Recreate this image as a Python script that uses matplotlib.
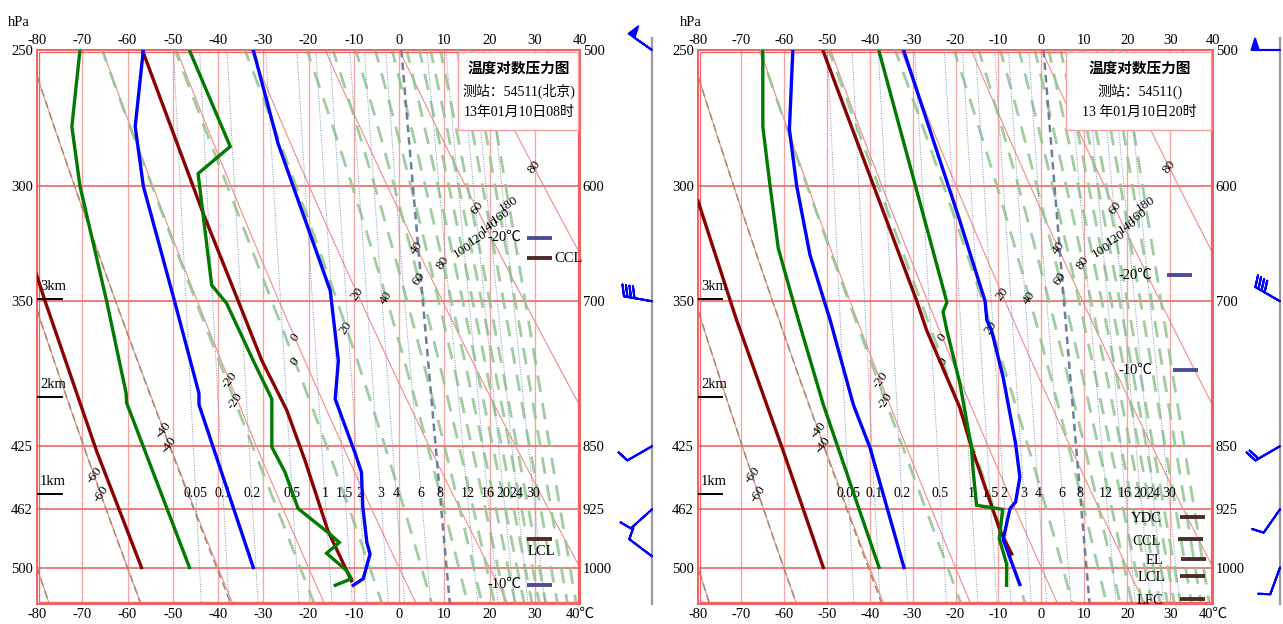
import numpy as np
import matplotlib.pyplot as plt
from matplotlib.patches import Rectangle
from matplotlib.ticker import NullLocator

plt.rcParams['font.family'] = ['Liberation Serif', 'Noto Sans CJK SC']
plt.rcParams['axes.unicode_minus'] = False

# ---------------- sounding 13-01-10 08时 ----------------
# lower part, 1050-500 hPa (right axis)
P_T08 = [1024, 1015, 982, 967, 922, 880, 858, 798, 758, 690, 600, 567, 500]
T08 = [-10.1, -7.9, -6.4, -7.1, -8.0, -8.3, -9.7, -14.1, -13.4, -15.2, -23.4, -26.7, -32.2]
P_TD08 = [1024, 1015, 1004, 981, 967, 956, 924, 880, 851, 798, 758, 702, 685, 590, 569, 501]
TD08 = [-14.1, -10.5, -11.6, -16.0, -13.2, -15.3, -22.3, -25.2, -28.1, -28.1, -32.2, -38.1,
        -41.4, -44.4, -37.3, -46.2]
P_TP08 = [1018, 952, 866, 810, 758, 699, 622, 501]
TP08 = [-10.5, -15.7, -20.8, -24.8, -30.3, -35.6, -43.3, -56.6]
# upper part, 500-250 hPa (left axis)
PU_T08 = [250, 277, 300, 350, 396, 402, 500]
TU08 = [-56.5, -58.3, -56.5, -49.6, -44.2, -44.2, -32.2]
PU_TD08 = [250, 277, 300, 350, 396, 401, 500]
TDU08 = [-70.5, -72.3, -70.5, -64.6, -60.3, -60.2, -46.3]
PU_TP08 = [336, 350, 428, 500]
TPU08 = [-80.4, -78.2, -66.8, -56.9]

# ---------------- sounding 13-01-10 20时 ----------------
P_T20 = [1023, 963, 924, 916, 886, 847, 775, 728, 718, 700, 625, 501]
T20 = [-5.0, -8.9, -7.3, -6.0, -5.0, -6.0, -8.9, -11.6, -12.7, -13.1, -19.3, -32.0]
P_TD20 = [1024, 995, 962, 925, 920, 878, 851, 781, 728, 710, 701, 501]
TD20 = [-8.1, -8.1, -9.8, -9.0, -15.1, -15.9, -16.3, -19.0, -22.0, -22.9, -22.0, -37.8]
P_TP20 = [982, 952, 874, 851, 807, 728, 699, 501]
TP20 = [-6.9, -9.6, -14.7, -16.3, -19.0, -26.7, -29.1, -50.8]
PU_T20 = [250, 278, 300, 329, 359, 402, 426, 500]
TU20 = [-57.9, -58.7, -57.0, -53.9, -49.2, -43.8, -39.9, -32.0]
PU_TD20 = [250, 277, 300, 326, 359, 402, 500]
TDU20 = [-64.9, -64.9, -63.2, -61.3, -56.6, -50.8, -37.8]
PU_TP20 = [306, 359, 428, 500]
TPU20 = [-80.0, -71.0, -60.1, -50.8]

# wind: level (hPa), direction (deg), speed (m/s)
WP08 = [500, 700, 850, 925, 985]
WD08 = [305, 280, 240, 228, 307]
WS08 = [20, 16, 4, 4, 4]
WP20 = [500, 700, 850, 925, 1000]
WD20 = [270, 300, 240, 215, 200]
WS20 = [20, 16, 8, 4, 4]

# characteristic levels
MK08_NAMES = ['-20℃', 'CCL', 'LCL', '-10℃']
MK08_P = [643, 661, 962, 1023]
MK20_NAMES = ['-20℃', '-10℃', 'YDC', 'CCL', 'EL', 'LCL', 'LFC']
MK20_P = [676, 768, 934, 963, 988, 1012, 1043]

# diagram lines
THETA = [-80, -60, -40, -20, 0, 20, 40, 60, 80, 100]
THETA_SE = [-80, -60, -40, -20, 0, 20, 40, 50, 60, 70, 80, 90, 100, 110, 120, 140, 160, 180]
MIXR = [0.05, 0.1, 0.2, 0.5, 1, 1.5, 2, 3, 4, 6, 8, 12, 16, 20, 24, 30]
MIXR_LAB = ['0.05', '0.1', '0.2', '0.5', '1', '1.5', '2', '3', '4', '6', '8', '12', '16', '20',
            '24', '30']
DRY_LAB = [-60, -40, -20, 0, 20, 40, 60, 80]
MOIST_LAB = [-60, -40, -20, 0, 20, 40, 60, 80, 100, 120, 140, 160, 180]
XT = list(range(-80, 41, 10))
P_RIGHT = [500, 600, 700, 850, 925, 1000]
P_LEFT = ['250', '300', '350', '425', '462', '500']
KM = ['3km', '2km', '1km']
KM_P = [698, 796, 906]

RED = '#f08a8a'
GRN = '#8fc48f'


def es_w(t):
    return 6.112 * np.exp(17.67 * t / (t + 243.5))


def dew_of_r(r, p):
    e = r / 1000.0 * p / (0.622 + r / 1000.0)
    a = np.log(e / 6.112)
    return np.where(a < 0, 272.62 * a / (22.46 - a), 243.5 * a / (17.67 - a))


def dtdp(T, pp):
    tc = T - 273.15
    e = es_w(tc)
    rs = 0.622 * e / (pp - e)
    L = 2.501e6
    return (287.04 * T + L * rs) / (pp * (1005.7 + L * L * rs * 0.622 / (287.04 * T * T)))


def integrate(T0, ps):
    T = np.array(T0, float) + 273.15
    out = [T.copy()]
    for a, b in zip(ps[:-1], ps[1:]):
        k1 = dtdp(T, a)
        k2 = dtdp(T + (b - a) * k1, b)
        T = T + (b - a) * (k1 + k2) / 2
        out.append(T.copy())
    return np.array(out) - 273.15


tt = np.linspace(-100, 48, 3000)
ee = es_w(tt)
rr = 622 * ee / (1000 - ee)
the = (tt + 273.15) * np.exp((3.376 / (tt + 273.15) - 0.00254) * rr * (1 + 0.00081 * rr)) - 273.15
T1000 = np.interp(THETA_SE, the, tt)
p_up = np.linspace(1000, 480, 200)
p_dn = np.linspace(1000, 1060, 20)
MOIST_UP = integrate(T1000, p_up)
MOIST_DN = integrate(T1000, p_dn)
# increasing pressure order
P_MOIST = np.concatenate([p_up[::-1], p_dn[1:]])
MOIST = np.concatenate([MOIST_UP[::-1], MOIST_DN[1:]])

W, H = 1283, 624
fig = plt.figure(figsize=(W / 100, H / 100), dpi=100)


def px_axes(x0, x1, y0, y1):
    return fig.add_axes([x0 / W, 1 - y1 / H, (x1 - x0) / W, (y1 - y0) / H])


def panel(ax, bx, lower, upper, wind, marks, title, right_marks, hpa_x):
    ax.set_yscale('log')
    ax.set_xlim(-80, 40)
    ax.set_ylim(1050, 500)
    ax.yaxis.set_minor_locator(NullLocator())
    ax.set_yticks(P_RIGHT)
    ax.set_yticklabels(P_LEFT)
    ax.set_xticks(XT)
    ax.set_xticklabels([str(v) for v in XT[:-1]] + ['40℃'])
    ax.tick_params(length=0, labelsize=10.5, pad=3)
    top = ax.secondary_xaxis('top')
    top.set_xticks(XT)
    top.tick_params(length=0, labelsize=10.5, pad=2)
    top.spines['top'].set_visible(False)
    rgt = ax.secondary_yaxis('right')
    rgt.set_yticks(P_RIGHT)
    rgt.set_yticklabels([str(v) for v in P_RIGHT])
    rgt.yaxis.set_minor_locator(NullLocator())
    rgt.tick_params(length=0, labelsize=10.5, pad=2)
    rgt.spines['right'].set_visible(False)
    ax.text(hpa_x, 1.05, 'hPa', transform=ax.transAxes, fontsize=10.5, ha='left', va='center')
    for s in ax.spines.values():
        s.set_color('#f06060')
        s.set_linewidth(1.4)
    ax.add_patch(Rectangle((0.004, 0.004), 0.992, 0.992, transform=ax.transAxes, fill=False,
                           ec='#f06060', lw=0.9, zorder=6))

    for x in XT[1:-1]:
        ax.axvline(x, color='#f5a5a5', lw=1.0, zorder=1)
    for p in P_RIGHT[1:]:
        ax.axhline(p, color='#f07070', lw=1.3, zorder=1)

    pp = np.geomspace(500, 1050, 120)
    # dry adiabats
    for th in THETA:
        ax.plot((th + 273.15) * (pp / 1000) ** 0.286 - 273.15, pp, color=RED, lw=0.8, zorder=2)
    # moist adiabats
    for i, th in enumerate(THETA_SE):
        if th <= -40:
            ax.plot(MOIST[:, i], P_MOIST, color='#a08a6a', lw=1.1, dashes=(5, 3), zorder=3)
        else:
            ax.plot(MOIST[:, i], P_MOIST, color=GRN, lw=2.0, dashes=(6, 4), alpha=0.85, zorder=3)
    # mixing ratio lines
    for r, lab in zip(MIXR, MIXR_LAB):
        td = dew_of_r(r, pp)
        if r == 8:
            ax.plot(td, pp, color='#6d7f9c', lw=1.8, dashes=(3, 2), zorder=3)
        else:
            ax.plot(td, pp, color='#7d8db0', lw=0.7, ls=(0, (1, 1.5)), zorder=3)
        ax.text(dew_of_r(r, 905.0), 905, lab, fontsize=10, ha='center', va='center', zorder=4)

    # adiabat labels
    lab_p_dry = [884, 832, 778, 735, 693, 652, 618, 585]
    for th, p0 in zip(DRY_LAB, lab_p_dry):
        x0 = (th + 273.15) * (p0 / 1000) ** 0.286 - 273.15
        ax.text(x0, p0, str(th), rotation=52, fontsize=9.5, ha='center', va='center', zorder=4)
    lab_p_moist = [906, 849, 800, 759, 725, 697, 679, 665, 654, 643, 633, 625, 615]
    for th, p0 in zip(MOIST_LAB, lab_p_moist):
        i = THETA_SE.index(th)
        x0 = np.interp(p0, P_MOIST, MOIST[:, i])
        rot = 55 if th <= 80 else 32
        ax.text(x0, p0, str(th), rotation=rot, fontsize=9.5, ha='center', va='center', zorder=4)

    # soundings
    (pt, t), (ptd, td), (ptp, tp) = lower
    (upt, ut), (uptd, utd), (uptp, utp) = upper
    kw = dict(lw=2.4, zorder=8, solid_joinstyle='miter')
    ax.plot(tp, ptp, color='#8b0000', **kw)
    ax.plot(td, ptd, color='#007a00', **kw)
    ax.plot(t, pt, color='#0000ff', **kw)
    ax.plot(utp, np.array(uptp) * 2, color='#8b0000', **kw)
    ax.plot(utd, np.array(uptd) * 2, color='#007a00', **kw)
    ax.plot(ut, np.array(upt) * 2, color='#0000ff', **kw)

    # height marks
    for lab, p in zip(KM, KM_P):
        ax.plot([-80, -74.5], [p, p], color='k', lw=1.4, zorder=9)
        ax.text(-79.3, p * 0.992, lab, fontsize=10.5, ha='left', va='bottom', zorder=9)

    # characteristic levels
    for name, p, (x0, x1, tx, ty, ha, va) in zip(marks[0], marks[1], right_marks):
        col = '#4a4e96' if '℃' in name else '#4d2b2b'
        ax.plot([x0, x1], [p, p], color=col, lw=2.8, zorder=9, solid_capstyle='butt')
        ax.text(tx, p * ty, name, fontsize=10.5, ha=ha, va=va, zorder=9)

    # title box
    bx0 = title[0]
    ax.add_patch(Rectangle((bx0, 0.855), 1 - bx0 - 0.003, 0.141, transform=ax.transAxes,
                           fc='white', ec='#f4a0a0', lw=1.0, zorder=10))
    xc = (bx0 + 1) / 2
    ax.text(xc, 0.966, title[1], transform=ax.transAxes, fontsize=10.5, ha='center',
            va='center', zorder=11, fontweight='bold')
    ax.text(xc, 0.926, title[2], transform=ax.transAxes, fontsize=10, ha='center', va='center',
            zorder=11)
    ax.text(xc, 0.888, title[3], transform=ax.transAxes, fontsize=10, ha='center', va='center',
            zorder=11)

    # wind barbs
    bx.set_yscale('log')
    bx.set_ylim(1050, 500)
    bx.set_xlim(0, 1)
    bx.axis('off')
    bx.plot([1, 1], [492, 1050], color='#9a9a9a', lw=1.6, clip_on=False)
    wp, wd, ws = wind
    wd = np.radians(wd)
    u = -np.array(ws) * np.sin(wd)
    v = -np.array(ws) * np.cos(wd)
    bx.barbs(np.ones(len(wp)), wp, u, v, length=6.4, color='#0000ff', lw=1.5, clip_on=False,
             barb_increments=dict(half=2, full=4, flag=20), zorder=5)


ax1 = px_axes(37, 580, 50, 604)
bx1 = px_axes(580, 652, 50, 604)
ax2 = px_axes(698, 1213, 50, 604)
bx2 = px_axes(1213, 1280, 50, 604)

marks08 = [(28.3, 33.8, 27.0, 1.0, 'right', 'center'),
           (28.3, 33.8, 34.3, 1.0, 'left', 'center'),
           (28.3, 33.8, 31.4, 1.008, 'center', 'top'),
           (28.3, 33.8, 27.0, 1.0, 'right', 'center')]
marks20 = [(29.2, 35.0, 25.9, 1.0, 'right', 'center'),
           (30.7, 36.5, 25.9, 1.0, 'right', 'center'),
           (32.3, 38.1, 28.0, 1.003, 'right', 'center'),
           (31.9, 37.7, 27.9, 1.003, 'right', 'center'),
           (32.5, 38.4, 28.4, 1.002, 'right', 'center'),
           (32.3, 38.2, 28.8, 1.002, 'right', 'center'),
           (32.3, 38.1, 28.4, 1.002, 'right', 'center')]

panel(ax1, bx1,
      [(P_T08, T08), (P_TD08, TD08), (P_TP08, TP08)],
      [(PU_T08, TU08), (PU_TD08, TDU08), (PU_TP08, TPU08)],
      (WP08, WD08, WS08), (MK08_NAMES, MK08_P),
      (0.775, '温度对数压力图', '测站：54511(北京)', '13年01月10日08时'), marks08, -0.053)
panel(ax2, bx2,
      [(P_T20, T20), (P_TD20, TD20), (P_TP20, TP20)],
      [(PU_T20, TU20), (PU_TD20, TDU20), (PU_TP20, TPU20)],
      (WP20, WD20, WS20), (MK20_NAMES, MK20_P),
      (0.715, '温度对数压力图', '测站：54511()', '13 年01月10日20时'), marks20, -0.035)

fig.savefig('out.png', dpi=100)
